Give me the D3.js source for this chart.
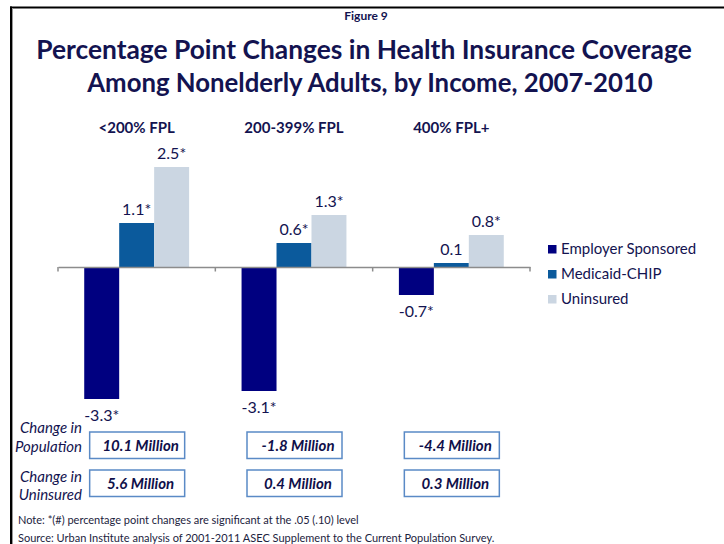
<!DOCTYPE html>
<html>
<head>
<meta charset="utf-8">
<script src="https://cdn.jsdelivr.net/npm/d3@7"></script>
<style>
  html, body { margin: 0; padding: 0; background: #fff; }
  svg { display: block; font-family: Lato, "Open Sans", sans-serif; }
</style>
</head>
<body>
<svg id="chart" width="724" height="544"></svg>
<script>
// ---- data ----
const groups = ["<200% FPL", "200-399% FPL", "400% FPL+"];
const series = ["Employer Sponsored", "Medicaid-CHIP", "Uninsured"];
const employerSponsored = [-3.3, -3.1, -0.7];
const medicaidChip = [1.1, 0.6, 0.1];
const uninsured = [2.5, 1.3, 0.8];
// significance markers (* = .05 level)
const employerSig = ["*", "*", "*"];
const medicaidSig = ["*", "*", ""];
const uninsuredSig = ["*", "*", "*"];
// population changes, millions
const populationChange = [10.1, -1.8, -4.4];
const uninsuredChange = [5.6, 0.4, 0.3];

const seriesValues = [employerSponsored, medicaidChip, uninsured];
const seriesSig = [employerSig, medicaidSig, uninsuredSig];
const colors = ["#000080", "#0b5a9c", "#cbd6e2"];
const navy = "#131350";

const svg = d3.select("#chart");

// frame lines
svg.append("line").attr("x1", 10).attr("x2", 724).attr("y1", 7.5).attr("y2", 7.5)
  .attr("stroke", "#000").attr("stroke-width", 2);
svg.append("line").attr("x1", 11).attr("x2", 11).attr("y1", 6.5).attr("y2", 544)
  .attr("stroke", "#000").attr("stroke-width", 2);
svg.append("line").attr("x1", 12.5).attr("x2", 12.5).attr("y1", 8).attr("y2", 544)
  .attr("stroke", "#999").attr("stroke-width", 1);

// headings
svg.append("text").attr("x", 366).attr("y", 20).attr("text-anchor", "middle")
  .attr("font-size", 12).attr("font-weight", 700).attr("fill", navy).text("Figure 9");

function fitWidth(t, w) {
  const fs = +t.attr("font-size");
  const cur = t.node().getComputedTextLength();
  t.attr("font-size", fs * w / cur);
}
const t1 = svg.append("text").attr("x", 364).attr("y", 59).attr("text-anchor", "middle")
  .attr("font-size", 28).attr("font-weight", 700).attr("fill", navy)
  .text("Percentage Point Changes in Health Insurance Coverage");
fitWidth(t1, 656);
const t2 = svg.append("text").attr("x", 370).attr("y", 92).attr("text-anchor", "middle")
  .attr("font-size", 28).attr("font-weight", 700).attr("fill", navy)
  .text("Among Nonelderly Adults, by Income, 2007-2010");
fitWidth(t2, 566);

// scales
const x = d3.scaleBand().domain(groups).range([58, 530]).padding(0);
const xs = d3.scaleBand().domain(series).range([0, x.bandwidth()])
  .paddingInner(0).paddingOuter(0.75);
const y = d3.scaleLinear().domain([-4, 3]).range([427, 147]);

// bars
const rows = [];
groups.forEach((g, gi) => series.forEach((s, si) => rows.push({
  g, s, si, v: seriesValues[si][gi], sig: seriesSig[si][gi]
})));

const plot = svg.append("g");
plot.selectAll("rect.bar").data(rows).join("rect").attr("class", "bar")
  .attr("x", d => x(d.g) + xs(d.s))
  .attr("width", xs.bandwidth())
  .attr("y", d => y(Math.max(0, d.v)))
  .attr("height", d => Math.abs(y(d.v) - y(0)))
  .attr("fill", d => colors[d.si]);

// zero axis with group ticks
const axis = d3.axisBottom(x).tickSize(0).tickFormat("");
const ax = svg.append("g").attr("transform", `translate(0,${y(0)})`).call(axis);
ax.select(".domain").attr("stroke", "#8c8c8c").attr("stroke-width", 1.5);
const tickXs = [x.range()[0]].concat(groups.map(g => x(g) + x.bandwidth()));
ax.selectAll("line.gtick").data(tickXs).join("line").attr("class", "gtick")
  .attr("x1", d => d).attr("x2", d => d).attr("y1", 0).attr("y2", 4.5)
  .attr("stroke", "#8c8c8c").attr("stroke-width", 1.5);

// value labels
plot.selectAll("text.val").data(rows).join("text").attr("class", "val")
  .attr("x", d => x(d.g) + xs(d.s) + xs.bandwidth() / 2)
  .attr("y", d => d.v >= 0 ? y(d.v) - 8 : y(d.v) + 22)
  .attr("text-anchor", "middle").attr("font-size", 16).attr("fill", navy)
  .text(d => d.v.toFixed(1) + d.sig);

// group headers
svg.selectAll("text.grp").data(groups).join("text").attr("class", "grp")
  .attr("x", d => x(d) + x.bandwidth() / 2).attr("y", 133)
  .attr("text-anchor", "middle").attr("font-size", 15).attr("font-weight", 700)
  .attr("fill", navy).text(d => d);

// legend
const leg = svg.selectAll("g.leg").data(series).join("g").attr("class", "leg")
  .attr("transform", (d, i) => `translate(548,${245 + i * 25})`);
leg.append("rect").attr("width", 8.5).attr("height", 8.5).attr("fill", (d, i) => colors[i]);
leg.append("text").attr("x", 13).attr("y", 9).attr("font-size", 15)
  .attr("fill", navy).text(d => d);

// change boxes
const fmtM = v => v.toFixed(1) + " Million";
const boxRows = [
  { vals: populationChange, top: 432, label: ["Change in", "Population"], labelY: [433, 452] },
  { vals: uninsuredChange, top: 470, label: ["Change in", "Uninsured"], labelY: [482, 500] }
];
boxRows.forEach(r => {
  const gb = svg.append("g");
  gb.selectAll("rect").data(r.vals).join("rect")
    .attr("x", (d, i) => x(groups[i]) + x.bandwidth() / 2 - 47)
    .attr("y", r.top).attr("width", 95).attr("height", 26.5)
    .attr("fill", "#fff").attr("stroke", "#5a8ac6").attr("stroke-width", 1.5);
  gb.selectAll("text").data(r.vals).join("text")
    .attr("x", (d, i) => x(groups[i]) + x.bandwidth() / 2 + 4)
    .attr("y", r.top + 19)
    .attr("text-anchor", "middle").attr("font-size", 15).attr("font-weight", 700)
    .attr("font-style", "italic").attr("fill", "#10104a").text(fmtM);
  const lab = svg.append("text").attr("font-size", 15).attr("font-style", "italic")
    .attr("fill", navy).attr("text-anchor", "end");
  lab.append("tspan").attr("x", 82).attr("y", r.labelY[0]).text(r.label[0]);
  lab.append("tspan").attr("x", 82).attr("y", r.labelY[1]).text(r.label[1]);
});

// notes
svg.append("text").attr("x", 18).attr("y", 524).attr("font-size", 11).attr("fill", "#1c2340")
  .text("Note: *(#) percentage point changes are significant at the .05 (.10) level");
svg.append("text").attr("x", 18).attr("y", 542).attr("font-size", 11).attr("fill", "#1c2340")
  .text("Source: Urban Institute analysis of 2001-2011 ASEC Supplement to the Current Population Survey.");
</script>
</body>
</html>
